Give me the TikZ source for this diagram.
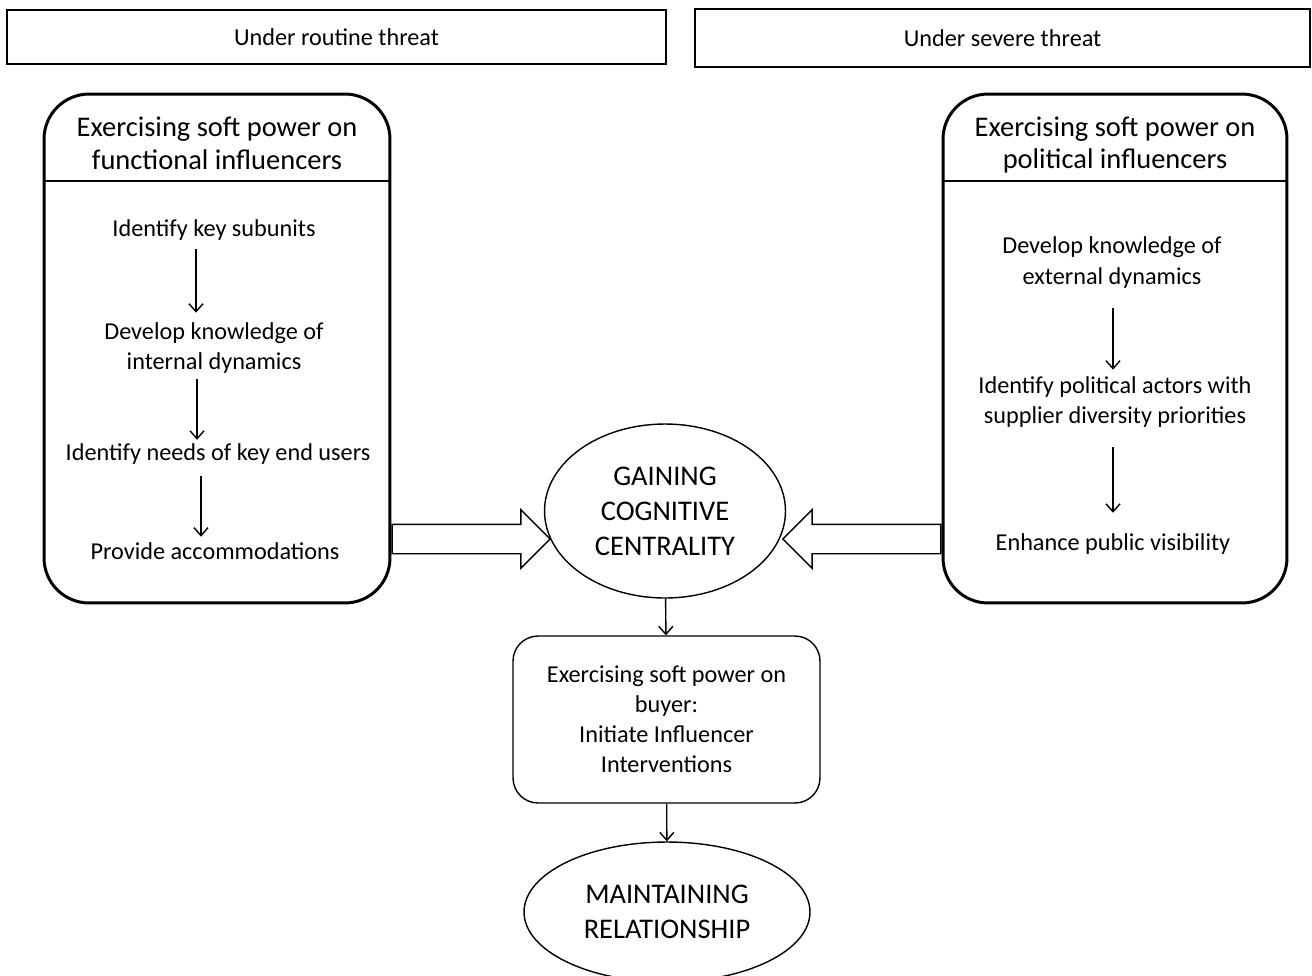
\documentclass[tikz,border=0pt]{standalone}
\usepackage{fontspec}
\setmainfont{Carlito}
\usepackage{tikz}
\usetikzlibrary{shapes.geometric,shapes.arrows,arrows.meta}

\begin{document}
\begin{tikzpicture}
	[
	x=0.02cm, y=-0.02cm,
	align=center,
	frame/.style={draw, line width=0.8pt, inner sep=0pt, font=\fontsize{13.8}{17}\selectfont},
	panel/.style={draw, line width=1.7pt, rounded corners=0.9cm, inner sep=0pt},
	head/.style={font=\fontsize{16.2}{18.7}\selectfont},
	item/.style={inner sep=2pt, font=\fontsize{13.8}{17.2}\selectfont},
	oval/.style={draw, ellipse, line width=0.8pt, inner sep=0pt, font=\fontsize{16.2}{20}\selectfont},
	bigarrow/.style={draw, single arrow, anchor=tail, line width=0.8pt, inner sep=0.28cm, single arrow head extend=0.29cm, minimum height=3.16cm},
	flow/.style={-{Straight Barb[length=4.5pt,width=8pt]}, line width=0.8pt},
	]
		\useasboundingbox (0,0) rectangle (1312,975);
		
		% threat levels
		\node[frame, minimum width=13.18cm, minimum height=1.08cm] (routine) at 	( 336.5,  37.0 ) {Under routine threat};
		\node[frame, minimum width=12.30cm, minimum height=1.16cm] (severe) at 	(1002.5,  38.0 ) {Under severe threat};
		
		% left-hand side
		\node[panel, minimum width=6.92cm, minimum height=10.18cm] (lbox) at 	( 217.0, 348.5 ) {};
		\node[head] (lhead) at 		( 217.0, 143.5 ) {Exercising soft power on\\functional influencers};
		\node[item] (l1) at 		( 214.0, 230.0 ) {Identify key subunits};
		\node[item] (l2) at 		( 214.0, 348.0 ) {Develop knowledge of\\internal dynamics};
		\node[item] (l3) at 		( 218.0, 454.0 ) {Identify needs of key end users};
		\node[item] (l4) at 		( 215.0, 551.0 ) {Provide accommodations};
		
		% right-hand side
		\node[panel, minimum width=6.88cm, minimum height=10.18cm] (rbox) at 	(1115.0, 348.5 ) {};
		\node[head] (rhead) at 		(1115.0, 145.0 ) {Exercising soft power on\\political influencers};
		\node[item] (r1) at 		(1112.0, 262.5 ) {Develop knowledge of\\external dynamics};
		\node[item] (r2) at 		(1115.0, 402.0 ) {Identify political actors with\\supplier diversity priorities};
		\node[item] (r3) at 		(1113.0, 544.0 ) {Enhance public visibility};
		
		\draw[line width=0.8pt] (lbox.west |- 0,181) -- (lbox.east |- 0,181);
		\draw[line width=0.8pt] (rbox.west |- 0,181) -- (rbox.east |- 0,181);
		
		% centre
		\node[oval, minimum width=4.82cm, minimum height=3.48cm] (gcc) at 	( 665.0, 511.0 ) {GAINING\\COGNITIVE\\CENTRALITY};
		\node[frame, rounded corners=0.5cm, minimum width=6.14cm, minimum height=3.34cm] (buyer) at 	( 666.5, 719.5 ) {Exercising soft power on\\buyer:\\Initiate Influencer\\Interventions};
		\node[oval, minimum width=5.72cm, minimum height=2.80cm] (keep) at 	( 667.0, 912.0 ) {MAINTAINING\\RELATIONSHIP};
		
		\node[bigarrow] (larrow) at 		(lbox.east |- 0,539) {};
		\node[bigarrow, shape border rotate=180] (rarrow) at 	(rbox.west |- 0,539) {};
		
		\foreach \from/\to/\x/\a/\b in {l1/l2/196/0.1/0.12,l2/l3/197/0.04/0,l3/l4/201/0.16/0.04}
			\draw[flow] ([yshift=-\a cm]\from.south -| \x,0) -- ([yshift=\b cm]\to.north -| \x,0);
		\foreach \from/\to/\a/\b in {r1/r2/0.33/0.06,r2/r3/0.32/0.34}
			\draw[flow] ([yshift=-\a cm]\from.south -| 1113,0) -- ([yshift=\b cm]\to.north -| 1113,0);
		\foreach \from/\to in {gcc/buyer,buyer/keep} \draw[flow] (\from) -- (\to);
		
	\end{tikzpicture}
\end{document}
